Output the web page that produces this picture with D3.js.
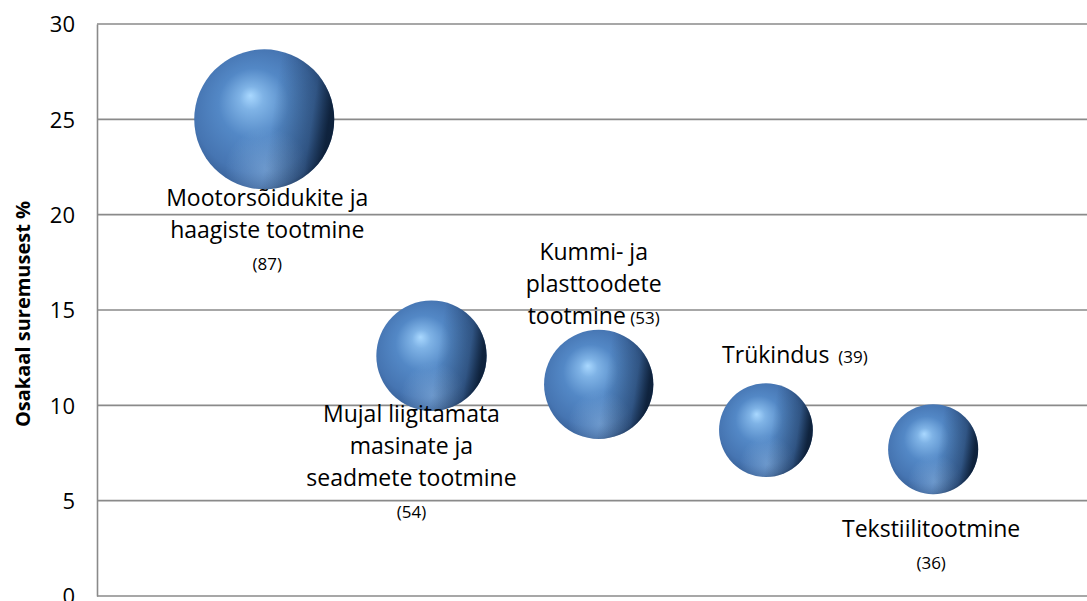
<!DOCTYPE html>
<html>
<head>
<meta charset="utf-8">
<script src="https://cdn.jsdelivr.net/npm/d3@7"></script>
<style>
  body { margin: 0; background: #fff; }
  text { font-family: "Open Sans", sans-serif; fill: #000; }
</style>
</head>
<body>
<div class="chart"></div>
<script>
// data
var industries = [1, 2, 3, 4, 5];
var shareOfDeaths = [25, 12.6, 11.1, 8.7, 7.7];
var deaths = [87, 54, 53, 39, 36];
var labelLines = [
  ["Mootorsõidukite ja", "haagiste tootmine"],
  ["Mujal liigitamata", "masinate ja", "seadmete tootmine"],
  ["Kummi- ja", "plasttoodete", "tootmine"],
  ["Trükindus"],
  ["Tekstiilitootmine"]
];
var yTicks = [0, 5, 10, 15, 20, 25, 30];
var yTitle = "Osakaal suremusest %";

// layout only: where each label block sits relative to its bubble
var countInline = [false, false, true, true, false];
var labelOffsets = [[3, 79], [-20, 58], [-5, -132], [29, -75], [-2, 80]];

var width = 1087, height = 601;
var plotLeft = 97, plotRight = 1087, plotTop = 24, plotBottom = 596;

var svg = d3.select(".chart")
            .append("svg")
            .attr("width", width)
            .attr("height", height);

var x = d3.scaleLinear().domain([0, 5.92]).range([plotLeft, plotRight]);
var y = d3.scaleLinear().domain([0, 30]).range([plotBottom, plotTop]);
var r = d3.scaleSqrt().domain([0, 87]).range([0, 70]);

// sphere shading
var defs = svg.append("defs");
var grad = defs.append("radialGradient")
    .attr("id", "sphere")
    .attr("cx", "0.46").attr("cy", "0.46").attr("r", "0.56")
    .attr("fx", "0.4").attr("fy", "0.33");
grad.append("stop").attr("offset", "0").attr("stop-color", "#a9d8ff");
grad.append("stop").attr("offset", "0.15").attr("stop-color", "#7fb3e6");
grad.append("stop").attr("offset", "0.45").attr("stop-color", "#5388c6");
grad.append("stop").attr("offset", "0.8").attr("stop-color", "#4675b2");
grad.append("stop").attr("offset", "0.95").attr("stop-color", "#3a639b");
grad.append("stop").attr("offset", "1").attr("stop-color", "#2d5080");

var shade = defs.append("linearGradient")
    .attr("id", "shade")
    .attr("x1", "0").attr("y1", "0.1").attr("x2", "1").attr("y2", "0.25");
shade.append("stop").attr("offset", "0.6").attr("stop-color", "#07172c").attr("stop-opacity", 0);
shade.append("stop").attr("offset", "0.88").attr("stop-color", "#07172c").attr("stop-opacity", 0.35);
shade.append("stop").attr("offset", "1").attr("stop-color", "#07172c").attr("stop-opacity", 0.85);

var glow = defs.append("radialGradient")
    .attr("id", "glow")
    .attr("cx", "0.52").attr("cy", "0.86").attr("r", "0.3");
glow.append("stop").attr("offset", "0").attr("stop-color", "#9cc4ec").attr("stop-opacity", 0.45);
glow.append("stop").attr("offset", "1").attr("stop-color", "#9cc4ec").attr("stop-opacity", 0);

// gridlines
svg.append("g")
    .selectAll("line")
    .data(yTicks)
  .enter()
    .append("line")
    .attr("x1", plotLeft)
    .attr("x2", plotRight)
    .attr("y1", function(d) { return y(d); })
    .attr("y2", function(d) { return y(d); })
    .style("stroke", "#8a8a8a")
    .style("stroke-width", 1.6);

// y axis
var yAxis = svg.append("g")
    .attr("transform", "translate(" + plotLeft + ",0)")
    .call(d3.axisLeft(y).tickValues(yTicks).tickSize(0).tickPadding(22));
yAxis.select(".domain").style("stroke", "#8a8a8a").style("stroke-width", 1.6);
yAxis.selectAll("text")
    .style("font-family", "Open Sans, sans-serif")
    .style("font-size", "22px")
    .attr("dy", "0.36em");

svg.append("text")
    .attr("transform", "translate(23," + ((plotTop + plotBottom) / 2 + 4) + ") rotate(-90)")
    .attr("text-anchor", "middle")
    .attr("dy", "0.35em")
    .style("font-size", "20px")
    .style("font-weight", "bold")
    .text(yTitle);

// bubbles
var points = industries.map(function(d, i) {
    return { x: d, y: shareOfDeaths[i], size: deaths[i], lines: labelLines[i], inline: countInline[i], off: labelOffsets[i] };
});

["url(#sphere)", "url(#glow)", "url(#shade)"].forEach(function(fill) {
    svg.append("g")
        .selectAll("circle")
        .data(points)
      .enter()
        .append("circle")
        .attr("cx", function(d) { return x(d.x); })
        .attr("cy", function(d) { return y(d.y); })
        .attr("r", function(d) { return r(d.size); })
        .style("fill", fill);
});

// labels
var labels = svg.append("g")
    .selectAll("text")
    .data(points)
  .enter()
    .append("text")
    .attr("text-anchor", "middle")
    .style("font-size", "23px")
    .attr("x", function(d) { return x(d.x) + d.off[0]; })
    .attr("y", function(d) { return y(d.y) + d.off[1]; });

labels.each(function(d) {
    var t = d3.select(this);
    var cx = x(d.x) + d.off[0];
    d.lines.forEach(function(line, j) {
        t.append("tspan")
            .attr("x", cx)
            .attr("dy", j === 0 ? "0.35em" : "32px")
            .text(line);
        if (d.inline && j === d.lines.length - 1) {
            t.append("tspan")
                .style("font-size", "17px")
                .text((d.lines.length === 1 ? "\u00a0\u00a0" : " ") + "(" + d.size + ")");
        }
    });
    if (!d.inline) {
        t.append("tspan")
            .attr("x", cx)
            .attr("dy", "32px")
            .style("font-size", "17px")
            .text("(" + d.size + ")");
    }
});
</script>
</body>
</html>
